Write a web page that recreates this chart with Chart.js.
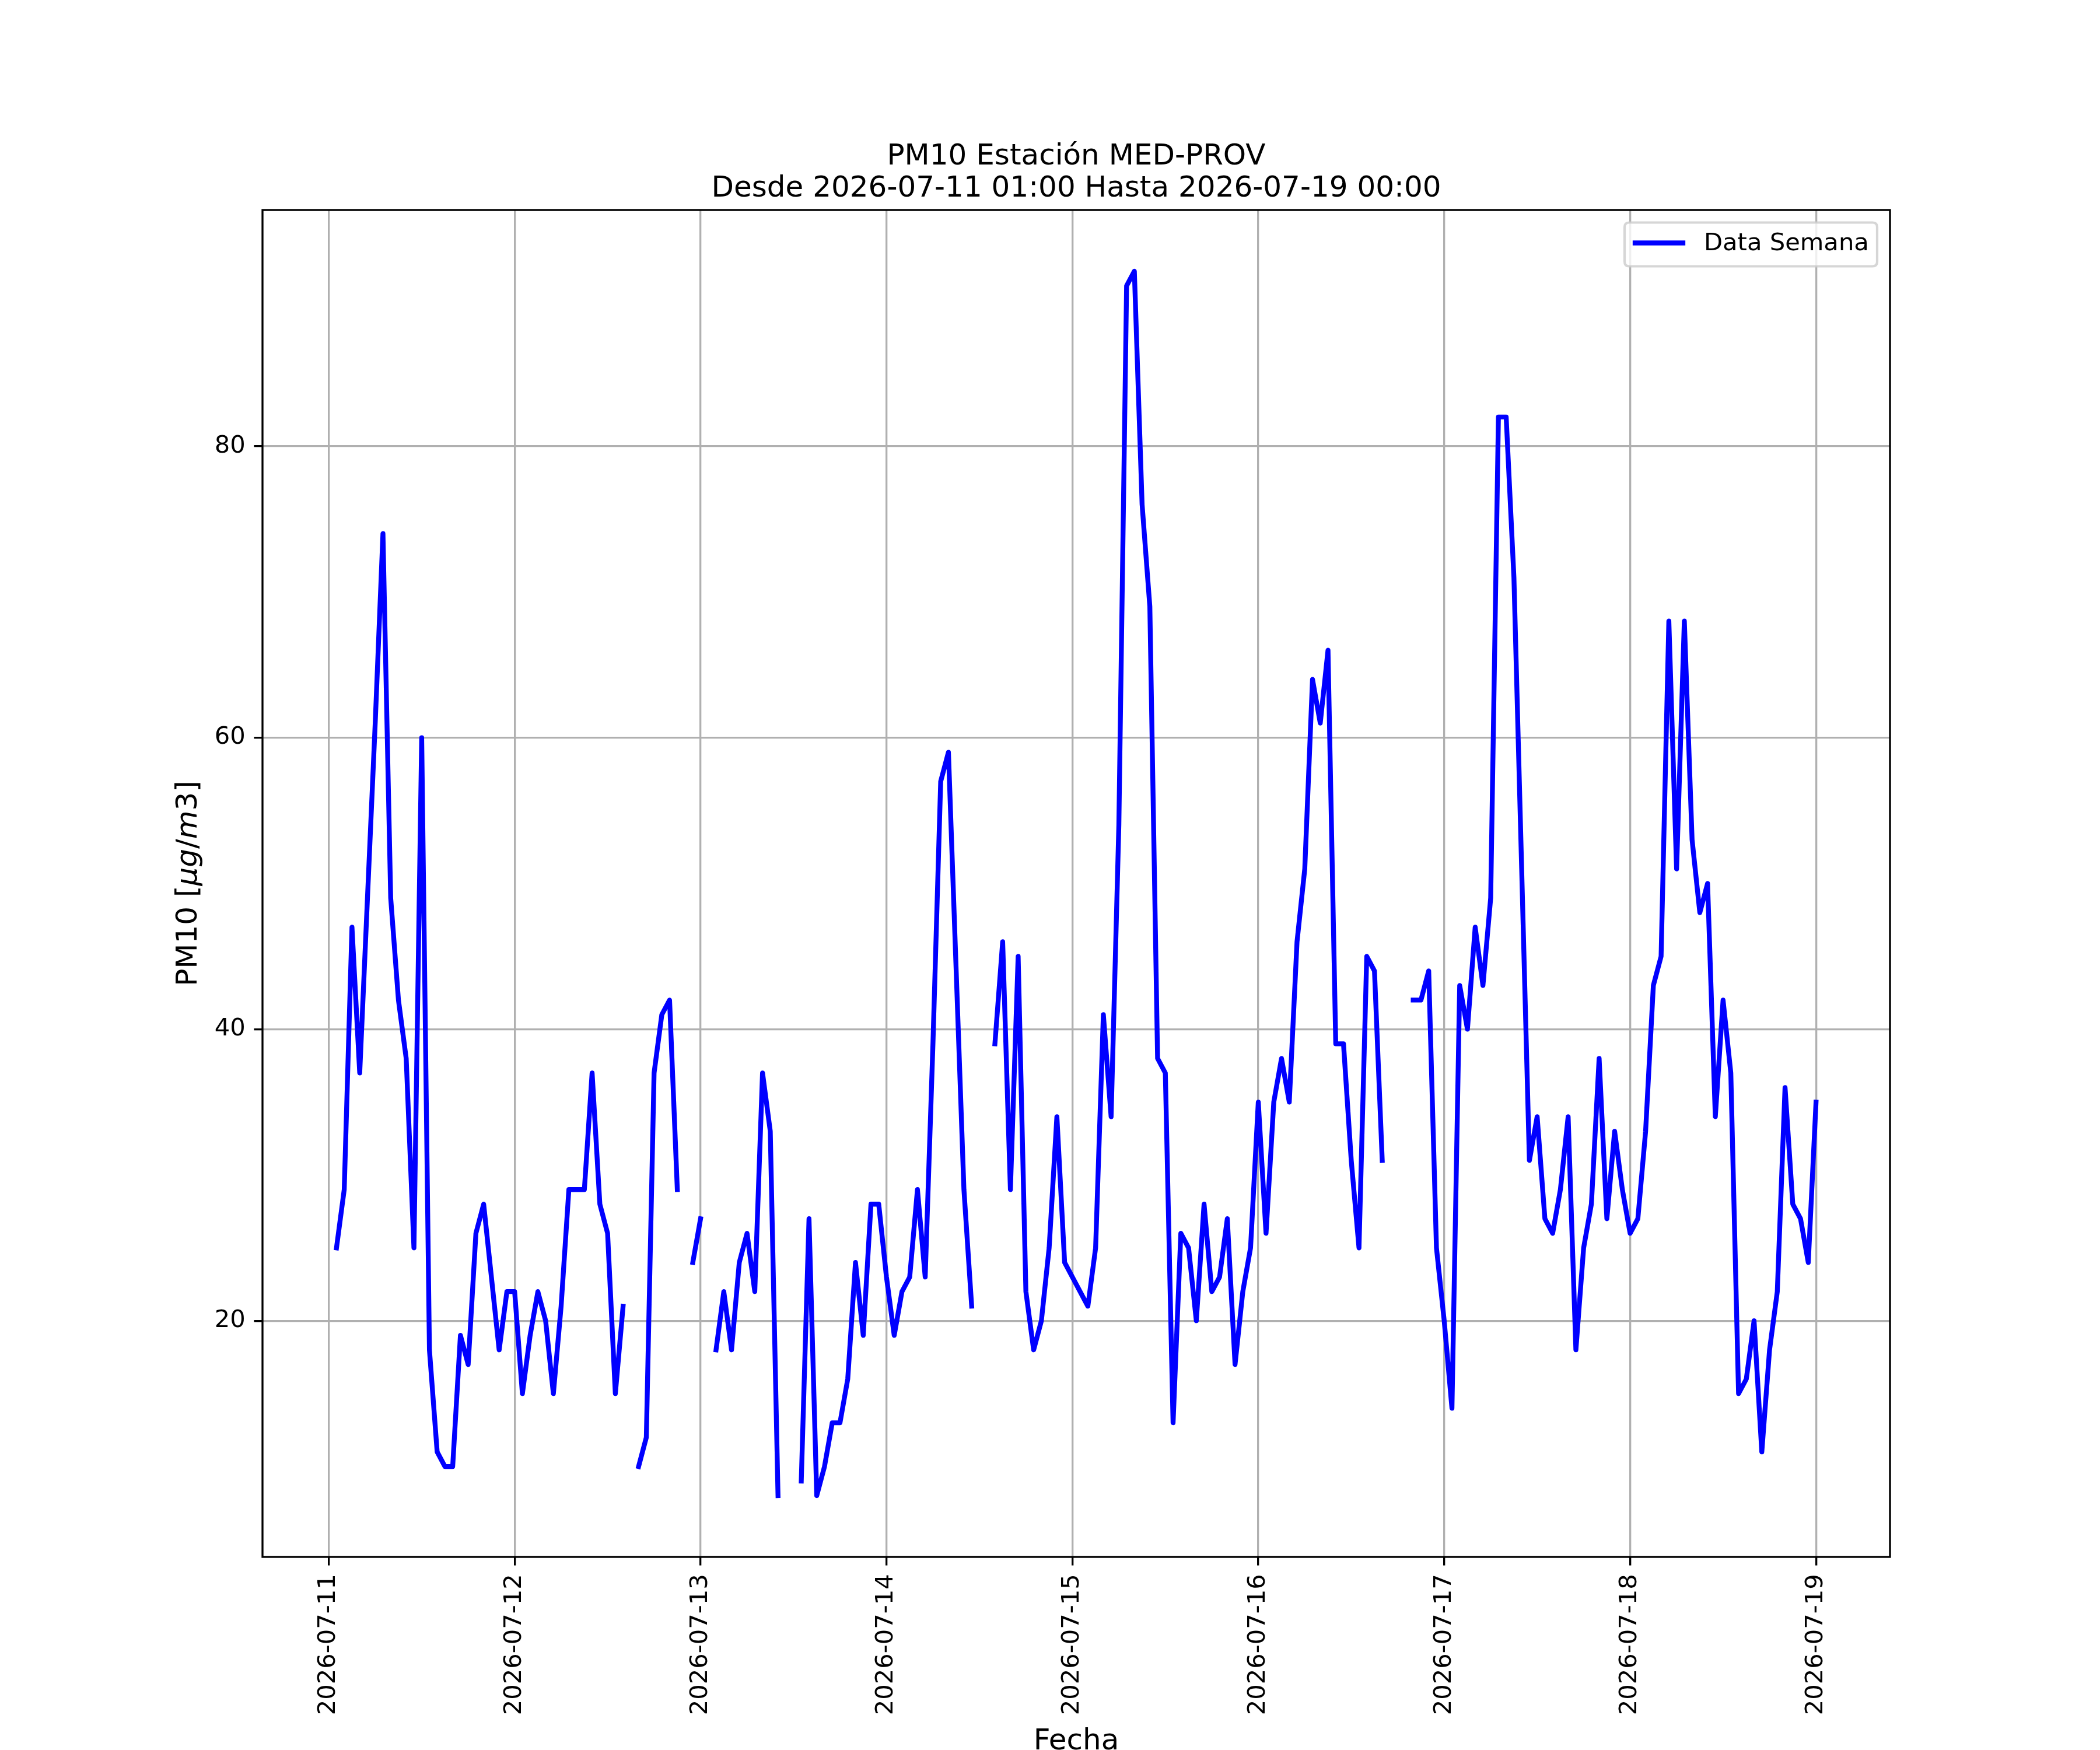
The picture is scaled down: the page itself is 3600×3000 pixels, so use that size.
<!DOCTYPE html>
<html>
<head>
<meta charset="utf-8">
<script src="https://cdn.jsdelivr.net/npm/chart.js@4.4.1/dist/chart.umd.min.js"></script>
<style>
html, body { margin: 0; padding: 0; background: #ffffff; }
#wrap { width: 3600px; height: 3000px; }
</style>
</head>
<body>
<div id="wrap"><canvas id="c" width="3600" height="3000" style="width:3600px;height:3000px"></canvas></div>
<script>
// ---- Data (hourly PM10, from 2026-07-11 01:00 to 2026-07-19 00:00; null = missing) ----
const titleLines = ['PM10 Estación MED-PROV', 'Desde 2026-07-11 01:00 Hasta 2026-07-19 00:00'];
const seriesLabel = 'Data Semana';
const xAxisLabel = 'Fecha';
const firstHour = 1; // hours counted from 2026-07-11 00:00

const valuesJul11 = [25, 29, 47, 37, 49, 61, 74, 49, 42, 38, 25, 60, 18, 11, 10, 10, 19, 17, 26, 28, 23, 18, 22, 22];
const valuesJul12 = [15, 19, 22, 20, 15, 21, 29, 29, 29, 37, 28, 26, 15, 21, null, 10, 12, 37, 41, 42, 29, null, 24, 27];
const valuesJul13 = [null, 18, 22, 18, 24, 26, 22, 37, 33, 8, null, null, 9, 27, 8, 10, 13, 13, 16, 24, 19, 28, 28, 23];
const valuesJul14 = [19, 22, 23, 29, 23, 39, 57, 59, 44, 29, 21, null, null, 39, 46, 29, 45, 22, 18, 20, 25, 34, 24, 23];
const valuesJul15 = [22, 21, 25, 41, 34, 54, 91, 92, 76, 69, 38, 37, 13, 26, 25, 20, 28, 22, 23, 27, 17, 22, 25, 35];
const valuesJul16 = [26, 35, 38, 35, 46, 51, 64, 61, 66, 39, 39, 31, 25, 45, 44, 31, null, null, null, 42, 42, 44, 25, 20];
const valuesJul17 = [14, 43, 40, 47, 43, 49, 82, 82, 71, 51, 31, 34, 27, 26, 29, 34, 18, 25, 28, 38, 27, 33, 29, 26];
const valuesJul18 = [27, 33, 43, 45, 68, 51, 68, 53, 48, 50, 34, 42, 37, 15, 16, 20, 11, 18, 22, 36, 28, 27, 24, 35];

const xTickHours = [0, 24, 48, 72, 96, 120, 144, 168, 192];
const xTickLabels = ['2026-07-11', '2026-07-12', '2026-07-13', '2026-07-14', '2026-07-15', '2026-07-16', '2026-07-17', '2026-07-18', '2026-07-19'];
const yTicks = [20, 40, 60, 80];
const xRange = [-8.55, 201.55];
const yRange = [3.8, 96.2];

// ---- Build dataset ----
const allValues = [].concat(valuesJul11, valuesJul12, valuesJul13, valuesJul14,
                            valuesJul15, valuesJul16, valuesJul17, valuesJul18);
const points = allValues.map((v, i) => ({ x: firstHour + i, y: v }));

const FONT = "'DejaVu Sans', 'Liberation Sans', sans-serif";
const PT = 300 / 72; // px per point

// Frame (spines), y label with math italics, legend inside the axes
const decorPlugin = {
  id: 'decor',
  afterDatasetsDraw(chart) {
    const ctx = chart.ctx;
    const a = chart.chartArea;
    ctx.save();
    // spines
    ctx.strokeStyle = '#000000';
    ctx.lineWidth = 0.8 * PT;
    ctx.strokeRect(a.left, a.top, a.right - a.left, a.bottom - a.top);

    // legend
    const lx = 2785, ly = 381.5, lw = 433, lh = 75, r = 8;
    ctx.beginPath();
    ctx.moveTo(lx + r, ly);
    ctx.lineTo(lx + lw - r, ly);
    ctx.quadraticCurveTo(lx + lw, ly, lx + lw, ly + r);
    ctx.lineTo(lx + lw, ly + lh - r);
    ctx.quadraticCurveTo(lx + lw, ly + lh, lx + lw - r, ly + lh);
    ctx.lineTo(lx + r, ly + lh);
    ctx.quadraticCurveTo(lx, ly + lh, lx, ly + lh - r);
    ctx.lineTo(lx, ly + r);
    ctx.quadraticCurveTo(lx, ly, lx + r, ly);
    ctx.closePath();
    ctx.fillStyle = 'rgba(255,255,255,0.8)';
    ctx.fill();
    ctx.strokeStyle = 'rgba(204,204,204,0.8)';
    ctx.lineWidth = 1.0 * PT;
    ctx.stroke();
    const ds = chart.data.datasets[0];
    ctx.beginPath();
    ctx.moveTo(2803, 416.5);
    ctx.lineTo(2885, 416.5);
    ctx.strokeStyle = ds.borderColor;
    ctx.lineWidth = ds.borderWidth;
    ctx.lineCap = 'square';
    ctx.stroke();
    ctx.fillStyle = '#000000';
    ctx.font = (10 * PT).toFixed(2) + 'px ' + FONT;
    ctx.textAlign = 'left';
    ctx.textBaseline = 'middle';
    ctx.fillText(ds.label, 2921, 418);
    ctx.restore();
  },
  afterDraw(chart) {
    const ctx = chart.ctx;
    const a = chart.chartArea;
    const size = (12 * PT).toFixed(2) + 'px ';
    const runs = [
      { t: 'PM10 [', f: 'normal ' + size + FONT },
      { t: 'μg', f: 'italic ' + size + FONT },
      { t: '/', f: 'normal ' + size + FONT },
      { t: 'm', f: 'italic ' + size + FONT },
      { t: '3', f: 'normal ' + size + FONT },
      { t: ']', f: 'normal ' + size + FONT }
    ];
    ctx.save();
    let total = 0;
    runs.forEach(r => { ctx.font = r.f; r.w = ctx.measureText(r.t).width; total += r.w; });
    ctx.translate(324, (a.top + a.bottom) / 2);
    ctx.rotate(-Math.PI / 2);
    ctx.fillStyle = '#000000';
    ctx.textAlign = 'left';
    ctx.textBaseline = 'middle';
    let x = -total / 2;
    runs.forEach(r => { ctx.font = r.f; ctx.fillText(r.t, x, 0); x += r.w; });
    ctx.restore();
  }
};

new Chart(document.getElementById('c'), {
  type: 'line',
  data: {
    datasets: [{
      label: seriesLabel,
      data: points,
      borderColor: '#0000ff',
      backgroundColor: '#0000ff',
      borderWidth: 2 * PT,
      pointRadius: 0,
      pointHoverRadius: 0,
      tension: 0,
      spanGaps: false,
      fill: false,
      borderCapStyle: 'square',
      borderJoinStyle: 'round'
    }]
  },
  options: {
    responsive: false,
    animation: false,
    devicePixelRatio: 1,
    events: [],
    layout: { padding: { top: 242, right: 360, bottom: 0, left: 0 } },
    plugins: {
      legend: { display: false },
      tooltip: { enabled: false },
      title: {
        display: true,
        text: titleLines,
        fullSize: false,
        color: '#000000',
        font: { family: FONT, size: 12 * PT, weight: 'normal', lineHeight: 1.1 },
        padding: { top: 0, bottom: 8 }
      }
    },
    scales: {
      x: {
        type: 'linear',
        min: xRange[0],
        max: xRange[1],
        afterBuildTicks: s => { s.ticks = xTickHours.map(v => ({ value: v })); },
        afterFit: s => { s.height = 331; },
        ticks: {
          autoSkip: false,
          minRotation: 90,
          maxRotation: 90,
          padding: 3.5 * PT,
          color: '#000000',
          font: { family: FONT, size: 10 * PT },
          callback: v => { const i = xTickHours.indexOf(v); return i >= 0 ? xTickLabels[i] : ''; }
        },
        grid: {
          color: '#b0b0b0',
          lineWidth: 0.8 * PT,
          tickLength: 3.5 * PT,
          tickColor: '#000000',
          tickWidth: 0.8 * PT
        },
        border: { display: false },
        title: {
          display: true,
          text: xAxisLabel,
          color: '#000000',
          font: { family: FONT, size: 12 * PT, lineHeight: 0.9 },
          padding: { top: 0, bottom: -9 }
        }
      },
      y: {
        type: 'linear',
        min: yRange[0],
        max: yRange[1],
        afterBuildTicks: s => { s.ticks = yTicks.map(v => ({ value: v })); },
        afterFit: s => { s.width = 450; },
        ticks: {
          padding: 3.5 * PT,
          color: '#000000',
          font: { family: FONT, size: 10 * PT },
          callback: v => String(v)
        },
        grid: {
          color: '#b0b0b0',
          lineWidth: 0.8 * PT,
          tickLength: 3.5 * PT,
          tickColor: '#000000',
          tickWidth: 0.8 * PT
        },
        border: { display: false },
        title: { display: false }
      }
    }
  },
  plugins: [decorPlugin]
});
</script>
</body>
</html>
